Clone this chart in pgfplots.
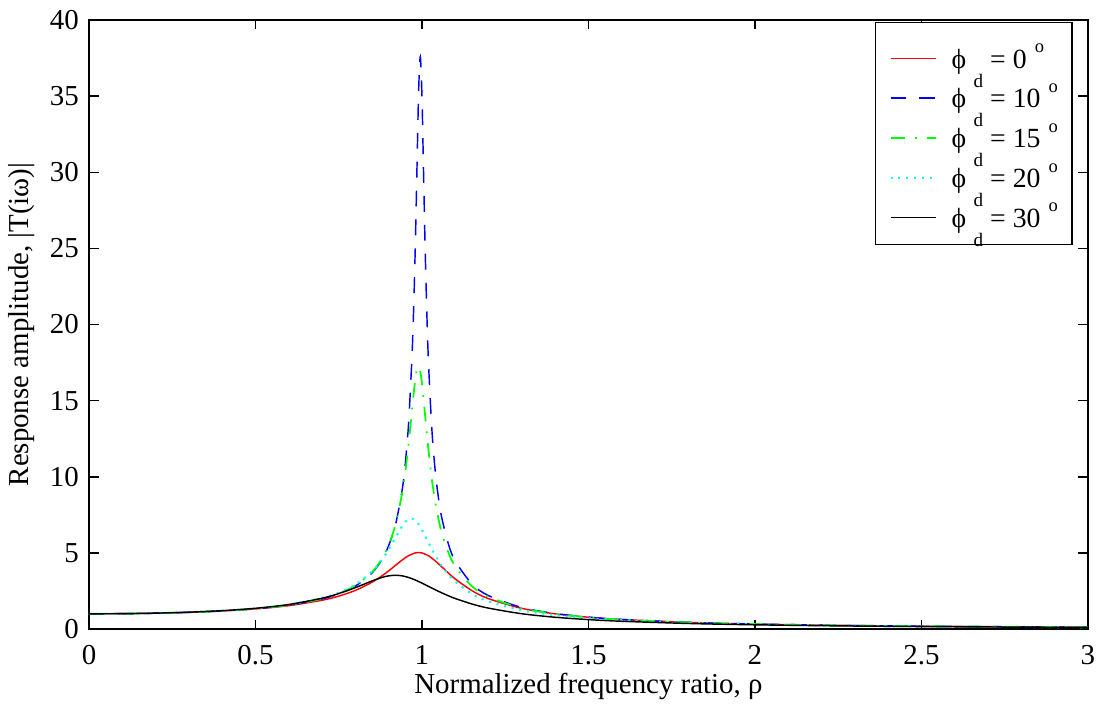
\documentclass[border=0pt]{standalone}
\usepackage{fontspec}
\setmainfont{Liberation Serif}
\usepackage{pgfplots}
\pgfplotsset{compat=1.18}
\definecolor{mgreen}{rgb}{0,1,0}
\definecolor{mcyan}{rgb}{0,1,1}
\definecolor{mblue}{rgb}{0,0,1}
\definecolor{mred}{rgb}{1,0,0}

\newcommand{\mysub}[1]{\hspace{2.6pt}\raisebox{-6.6pt}{\fontsize{6.6}{7}\selectfont #1}}
\newcommand{\mysup}[1]{\hspace{2.8pt}\raisebox{5.4pt}{\fontsize{6.4}{7}\selectfont #1}}
\newcommand{\entry}[1]{ϕ\mysub{d} = #1\mysup{o}}

\begin{document}
\begin{tikzpicture}
\begin{axis}[
  at={(0,0)}, anchor=south west,
  width=345.7pt, height=210.8pt, scale only axis,
  xmin=0, xmax=3, ymin=0, ymax=40,
  xtick={0,0.5,1,1.5,2,2.5,3},
  ytick={0,5,10,15,20,25,30,35,40},
  tick align=inside, major tick length=3.3pt,
  axis line style={line width=0.5pt},
  every tick/.style={black, line width=0.5pt},
  /pgf/number format/assume math mode=true,
  ticklabel style={font=\fontsize{10}{12}\selectfont},
  xticklabel style={yshift=-2.2pt},
  label style={font=\fontsize{10}{12}\selectfont},
  xlabel={Normalized frequency ratio, ρ},
  ylabel={Response amplitude, |T(iω)|},
  xlabel style={at={(axis description cs:0.5,-0.1051)}, anchor=base},
  ylabel style={at={(axis description cs:-0.0602,0.5)}, anchor=base},
  legend cell align=left,
  legend style={at={(0.9847,0.9967)}, anchor=north east, draw=black, line width=0.5pt,
    fill=white, inner xsep=4.85pt, inner ysep=3.9pt, row sep=0pt, column sep=5.2pt,
    nodes={inner xsep=0pt, inner ysep=0pt, text height=11.8pt, text depth=2pt,
      font=\fontsize{9.6}{11}\selectfont, anchor=base west}},
  legend image code/.code={\draw[#1] (0pt,3.4pt) -- (15.6pt,3.4pt);},
]
\addplot[color=mred, line width=0.5pt, smooth] coordinates {
(0,1.000) (0.1,1.010) (0.2,1.041) (0.3,1.097) (0.4,1.185) (0.5,1.322) (0.6,1.536)
(0.7,1.891) (0.75,2.162) (0.8,2.538) (0.85,3.073) (0.88,3.495) (0.9,3.821) (0.92,4.172)
(0.94,4.522) (0.96,4.822) (0.98,5.001) (0.99,5.025) (1.0,5.000) (1.02,4.809) (1.04,4.476)
(1.06,4.075) (1.08,3.668) (1.1,3.288) (1.15,2.524) (1.2,1.995) (1.3,1.356) (1.4,1.000)
(1.5,0.778) (1.6,0.628) (1.8,0.441) (2.0,0.330) (2.25,0.245) (2.5,0.190) (2.75,0.152) (3.0,0.125)
};
\addlegendentry{\entry{0}}
\addplot[color=mblue, line width=0.5pt, dash pattern=on 5.5pt off 4.5pt, smooth] coordinates {
(0,1.000) (0.1,1.010) (0.2,1.042) (0.3,1.100) (0.4,1.193) (0.5,1.338) (0.6,1.571)
(0.7,1.979) (0.75,2.313) (0.8,2.823) (0.85,3.688) (0.88,4.565) (0.9,5.482) (0.92,6.797)
(0.94,9.06) (0.95,10.875) (0.96,13.567) (0.97,17.896) (0.975,21.03) (0.98,25.15) (0.985,30.25)
(0.99,35.33) (0.995,37.58) (1.0,34.98) (1.005,29.73) (1.01,24.59) (1.015,20.47) (1.02,17.31)
(1.03,13.03) (1.04,10.35) (1.05,8.543) (1.06,7.252) (1.08,5.54) (1.1,4.461) (1.15,2.965)
(1.2,2.195) (1.3,1.413) (1.4,1.020) (1.5,0.785) (1.6,0.630) (1.8,0.440) (2.0,0.329)
(2.25,0.243) (2.5,0.188) (2.75,0.151) (3.0,0.124)
};
\addlegendentry{\entry{10}}
\addplot[color=mgreen, line width=0.6pt, dash pattern=on 5pt off 3.5pt on 0.6pt off 3.5pt, smooth] coordinates {
(0,1.000) (0.1,1.010) (0.2,1.043) (0.3,1.101) (0.4,1.195) (0.5,1.341) (0.6,1.578)
(0.7,1.993) (0.75,2.335) (0.8,2.856) (0.85,3.738) (0.88,4.627) (0.9,5.513) (0.92,6.818)
(0.94,8.864) (0.95,10.33) (0.96,12.20) (0.97,14.39) (0.98,16.44) (0.985,17.07) (0.99,17.24)
(0.995,16.90) (1.0,16.13) (1.01,13.91) (1.02,11.66) (1.03,9.788) (1.04,8.323) (1.05,7.183)
(1.06,6.288) (1.08,4.992) (1.1,4.111) (1.15,2.811) (1.2,2.108) (1.3,1.373) (1.4,0.997)
(1.5,0.770) (1.6,0.619) (1.8,0.433) (2.0,0.324) (2.25,0.240) (2.5,0.186) (2.75,0.149) (3.0,0.122)
};
\addlegendentry{\entry{15}}
\addplot[color=mcyan, line width=0.7pt, dash pattern=on 0.7pt off 2.0pt, smooth] coordinates {
(0,1.000) (0.1,1.011) (0.2,1.044) (0.3,1.104) (0.4,1.201) (0.5,1.354) (0.6,1.601)
(0.7,2.035) (0.75,2.390) (0.8,2.924) (0.85,3.782) (0.88,4.558) (0.9,5.221) (0.92,5.986)
(0.94,6.741) (0.95,7.037) (0.96,7.221) (0.97,7.258) (0.98,7.137) (0.99,6.876) (1.0,6.513)
(1.02,5.661) (1.04,4.836) (1.06,4.136) (1.08,3.569) (1.1,3.113) (1.15,2.316) (1.2,1.815)
(1.3,1.235) (1.4,0.915) (1.5,0.715) (1.6,0.580) (1.8,0.409) (2.0,0.308) (2.25,0.229)
(2.5,0.178) (2.75,0.143) (3.0,0.117)
};
\addlegendentry{\entry{20}}
\addplot[color=black, line width=0.5pt, smooth] coordinates {
(0,1.000) (0.1,1.011) (0.2,1.045) (0.3,1.108) (0.4,1.208) (0.5,1.364) (0.6,1.613)
(0.7,2.025) (0.75,2.330) (0.8,2.719) (0.85,3.160) (0.88,3.391) (0.9,3.494) (0.92,3.533)
(0.94,3.497) (0.96,3.387) (0.98,3.220) (1.0,3.016) (1.02,2.797) (1.04,2.579) (1.06,2.372)
(1.08,2.180) (1.1,2.006) (1.15,1.646) (1.2,1.374) (1.3,1.005) (1.4,0.775) (1.5,0.620)
(1.6,0.511) (1.8,0.367) (2.0,0.279) (2.25,0.209) (2.5,0.163) (2.75,0.132) (3.0,0.108)
};
\addlegendentry{\entry{30}}
\end{axis}
\pgfresetboundingbox
\path[use as bounding box] (-30.8pt,-27pt) rectangle (349.2pt,217.7pt);
\end{tikzpicture}
\end{document}
